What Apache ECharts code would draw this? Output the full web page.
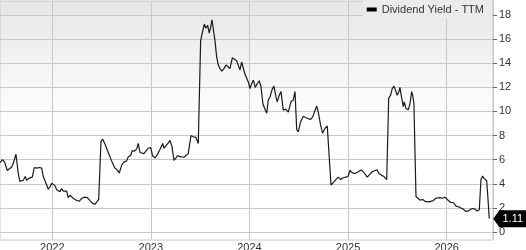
<!DOCTYPE html>
<html>
<head>
<meta charset="utf-8">
<script src="https://cdn.jsdelivr.net/npm/echarts@6/dist/echarts.min.js"></script>
<style>
  html, body { margin: 0; padding: 0; background: #fff; }
  #chart { width: 526px; height: 250px; }
</style>
</head>
<body>
<div id="chart"></div>
<script>
// dates as decimal years
const yearPos = [
  2021.470, 2021.497, 2021.517, 2021.544, 2021.564, 2021.588, 2021.605, 2021.619, 2021.632, 2021.655,
  2021.672, 2021.690, 2021.706, 2021.726, 2021.740, 2021.761, 2021.781, 2021.797, 2021.818, 2021.842,
  2021.868, 2021.893, 2021.909, 2021.926, 2021.943, 2021.960, 2021.977, 2021.994, 2022.010, 2022.027,
  2022.045, 2022.061, 2022.078, 2022.095, 2022.112, 2022.129, 2022.146, 2022.162, 2022.180, 2022.197,
  2022.213, 2022.240, 2022.274, 2022.298, 2022.332, 2022.355, 2022.382, 2022.406, 2022.433, 2022.450,
  2022.471, 2022.494, 2022.511, 2022.535, 2022.558, 2022.578, 2022.602, 2022.619, 2022.636, 2022.659,
  2022.680, 2022.704, 2022.727, 2022.755, 2022.771, 2022.795, 2022.811, 2022.832, 2022.856, 2022.872,
  2022.890, 2022.907, 2022.930, 2022.950, 2022.974, 2022.998, 2023.018, 2023.042, 2023.065, 2023.092,
  2023.120, 2023.133, 2023.153, 2023.177, 2023.194, 2023.214, 2023.234, 2023.255, 2023.272, 2023.295,
  2023.312, 2023.336, 2023.356, 2023.379, 2023.407, 2023.430, 2023.457, 2023.481, 2023.505, 2023.521,
  2023.542, 2023.559, 2023.576, 2023.592, 2023.607, 2023.620, 2023.633, 2023.650, 2023.667, 2023.684,
  2023.701, 2023.721, 2023.741, 2023.762, 2023.779, 2023.802, 2023.826, 2023.846, 2023.870, 2023.886,
  2023.904, 2023.921, 2023.937, 2023.954, 2023.972, 2023.988, 2024.005, 2024.022, 2024.039, 2024.059,
  2024.079, 2024.099, 2024.117, 2024.137, 2024.154, 2024.175, 2024.191, 2024.208, 2024.231, 2024.248,
  2024.269, 2024.282, 2024.302, 2024.320, 2024.343, 2024.367, 2024.394, 2024.421, 2024.444, 2024.462,
  2024.479, 2024.495, 2024.519, 2024.546, 2024.570, 2024.596, 2024.621, 2024.641, 2024.661, 2024.682,
  2024.698, 2024.722, 2024.742, 2024.766, 2024.789, 2024.806, 2024.827, 2024.850, 2024.877, 2024.901,
  2024.925, 2024.951, 2024.979, 2025.002, 2025.019, 2025.047, 2025.070, 2025.103, 2025.131, 2025.154,
  2025.171, 2025.195, 2025.222, 2025.245, 2025.273, 2025.296, 2025.313, 2025.341, 2025.364, 2025.392,
  2025.412, 2025.432, 2025.448, 2025.466, 2025.483, 2025.499, 2025.516, 2025.526, 2025.544, 2025.560,
  2025.570, 2025.587, 2025.611, 2025.628, 2025.645, 2025.655, 2025.668, 2025.689, 2025.706, 2025.729,
  2025.757, 2025.780, 2025.797, 2025.821, 2025.841, 2025.864, 2025.889, 2025.909, 2025.932, 2025.960,
  2025.983, 2026.006, 2026.041, 2026.067, 2026.095, 2026.118, 2026.145, 2026.168, 2026.196, 2026.219,
  2026.243, 2026.264, 2026.287, 2026.310, 2026.331, 2026.348, 2026.365, 2026.378, 2026.406, 2026.422,
  2026.432
];

const yieldTTM = [
  5.75, 6.0, 5.8, 5.1, 5.05, 5.4, 5.7, 5.7, 6.45, 4.85,
  4.2, 4.05, 4.3, 4.6, 4.3, 4.45, 4.35, 4.55, 5.35, 5.3,
  5.35, 5.3, 4.6, 4.55, 3.9, 3.55, 3.75, 4.05, 4.0, 3.85,
  3.5, 3.6, 3.35, 3.6, 3.4, 3.3, 3.4, 2.85, 3.05, 3.0,
  2.8, 2.65, 2.55, 2.8, 2.9, 2.85, 2.6, 2.4, 2.3, 2.45,
  2.7, 7.5, 7.7, 7.3, 6.8, 6.65, 5.9, 5.75, 5.3, 5.15,
  4.9, 5.55, 5.8, 5.9, 6.25, 6.35, 6.75, 6.7, 6.9, 7.35,
  6.6, 6.75, 6.5, 6.45, 6.95, 7.0, 6.3, 6.15, 6.4, 6.85,
  7.35, 6.95, 7.1, 7.4, 7.6, 7.1, 5.95, 6.15, 6.35, 6.25,
  6.3, 6.2, 6.1, 6.5, 8.0, 7.9, 7.85, 7.35, 15.9, 16.0,
  17.25, 16.9, 17.15, 16.5, 17.0, 17.6, 17.5, 15.9, 14.55, 13.85,
  13.55, 13.35, 13.55, 13.85, 13.95, 13.55, 14.45, 14.3, 14.2, 14.25,
  13.45, 14.1, 14.0, 13.1, 13.0, 12.45, 11.9, 12.3, 12.6, 12.0,
  12.3, 12.55, 12.05, 10.6, 10.5, 9.85, 10.95, 11.2, 11.85, 12.1,
  11.2, 10.8, 11.35, 11.65, 10.1, 10.2, 9.95, 10.8, 10.95, 11.65,
  8.5, 8.3, 9.15, 9.6, 9.5, 9.4, 9.35, 9.55, 9.7, 10.45,
  9.95, 8.85, 8.2, 8.6, 8.8, 8.7, 3.9, 4.1, 4.35, 4.55,
  4.35, 4.5, 4.55, 4.65, 5.1, 4.9, 4.85, 5.0, 5.15, 5.0,
  4.85, 4.55, 4.8, 5.0, 5.1, 5.15, 4.85, 4.7, 4.6, 4.35,
  11.1, 11.35, 11.9, 12.1, 12.0, 11.35, 11.65, 12.0, 11.1, 10.4,
  10.8, 10.25, 10.15, 10.65, 11.65, 11.35, 10.65, 2.95, 2.8, 2.65,
  2.7, 2.55, 2.65, 2.5, 2.65, 2.6, 2.8, 2.7, 2.85, 2.8,
  2.9, 2.7, 2.45, 2.45, 2.15, 2.1, 2.0, 1.9, 1.7, 1.75,
  1.9, 1.95, 1.9, 1.75, 1.85, 4.35, 4.65, 4.45, 4.25, 2.4,
  1.11
];

const yearTicks = [2022, 2023, 2024, 2025, 2026];
const yTicks = [0, 2, 4, 6, 8, 10, 12, 14, 16, 18];

const chart = echarts.init(document.getElementById('chart'), null, { renderer: 'canvas' });

const font = 'Liberation Sans, Arial, sans-serif';
const lastIdx = yieldTTM.length - 1;

chart.setOption({
  animation: false,
  textStyle: { fontFamily: font },
  grid: {
    left: 0,
    right: 33,
    top: 1,
    bottom: 10,
    outerBoundsMode: 'none',
    containLabel: false,
    show: true,
    borderColor: '#c8c8c8',
    borderWidth: 1,
    backgroundColor: {
      type: 'linear', x: 0, y: 0, x2: 0, y2: 1,
      colorStops: [
        { offset: 0, color: '#e6e6e6' },
        { offset: 0.5, color: '#ffffff' },
        { offset: 1, color: '#ffffff' }
      ]
    }
  },
  legend: {
    data: ['Dividend Yield - TTM'],
    top: 0,
    right: 34,
    padding: [4, 8, 4, 4],
    backgroundColor: '#ebebeb',
    icon: 'rect',
    itemWidth: 10,
    itemHeight: 4,
    textStyle: { fontSize: 11, color: '#333', fontFamily: font }
  },
  xAxis: {
    type: 'value',
    min: 2021.47,
    max: 2026.47,
    axisLine: { show: false },
    axisTick: { show: false, customValues: yearTicks },
    axisLabel: {
      customValues: yearTicks,
      fontSize: 11,
      color: '#333',
      margin: 2,
      formatter: v => String(v)
    },
    splitLine: { show: true, lineStyle: { color: '#c8c8c8', width: 1 } }
  },
  yAxis: {
    type: 'value',
    position: 'right',
    min: -0.66,
    max: 19.16,
    axisLine: { show: true, lineStyle: { color: '#c8c8c8' } },
    axisTick: { show: true, inside: false, length: 4, customValues: yTicks, lineStyle: { color: '#666' } },
    axisLabel: {
      customValues: yTicks,
      fontSize: 11,
      color: '#333',
      margin: 6
    },
    splitLine: { show: true, lineStyle: { color: '#c8c8c8', width: 1 } }
  },
  series: [{
    name: 'Dividend Yield - TTM',
    type: 'line',
    data: yearPos.map((x, i) => [x, yieldTTM[i]]),
    showSymbol: false,
    symbol: 'none',
    color: '#000',
    lineStyle: { color: '#1a1a1a', width: 1.2 },
    markPoint: {
      symbol: 'path://M0,8.5L6,0L33,0L33,17L6,17Z',
      symbolKeepAspect: false,
      symbolSize: [33, 17],
      symbolOffset: [20.5, 0],
      itemStyle: { color: '#000' },
      label: {
        show: true,
        color: '#fff',
        fontSize: 11,
        fontFamily: font,
        offset: [3, 0],
        formatter: p => p.value.toFixed(2)
      },
      data: [{ coord: [yearPos[lastIdx], yieldTTM[lastIdx]], value: yieldTTM[lastIdx] }]
    }
  }]
});
</script>
</body>
</html>
